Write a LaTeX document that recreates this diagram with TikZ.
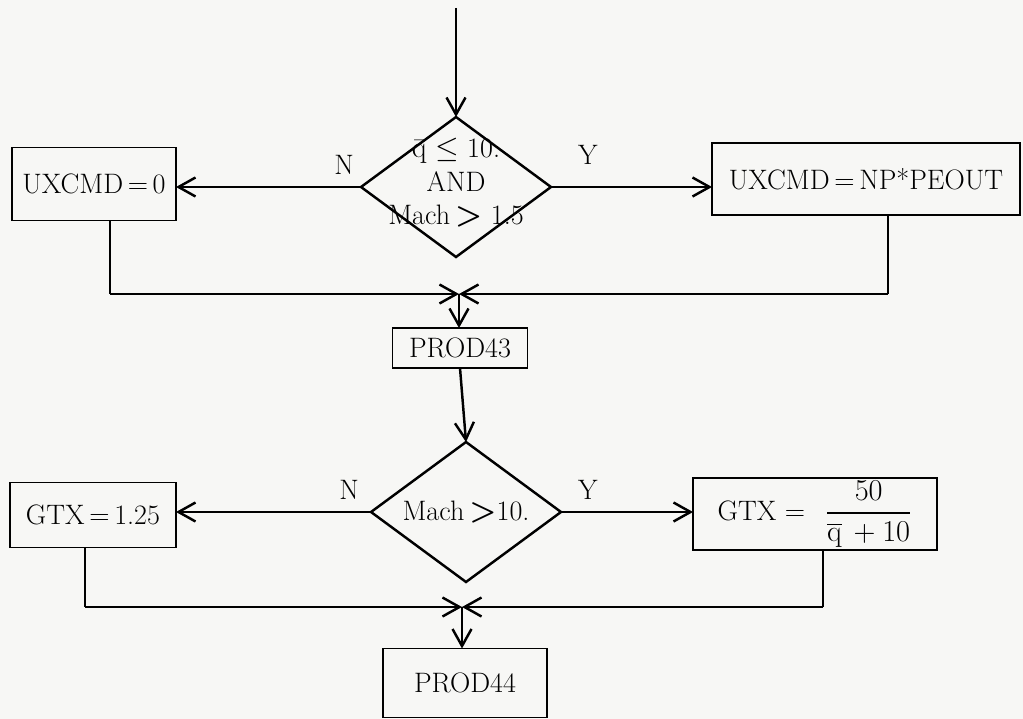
\documentclass[tikz,border=0pt]{standalone}
\usepackage{amsmath,amssymb}
\usepackage{xcolor}
\usepackage{tikz}
\usetikzlibrary{arrows.meta,positioning,shapes.geometric,calc}
\definecolor{Paper}{HTML}{F7F7F5}

\begin{document}
\begin{tikzpicture}[font=\fontsize{16}{19}\selectfont,x=0.02cm,y=-0.02cm,
  >={Straight Barb[length=3.4mm,width=3.8mm]},line width=1.4pt,
  box/.style={draw,line width=1pt,rectangle,inner sep=0pt,outer sep=0pt},
  dec/.style={draw,diamond,inner sep=0pt,outer sep=0pt,minimum width=3.8cm,minimum height=2.8cm}]
  \fill[Paper] (0,0) rectangle (1023,719);
  \useasboundingbox (0,0) rectangle (1023,719);
  % first test
  \coordinate (in) at (456,8);
  \node[dec] (d1) at (456,187) {};
  \node[align=center] (t1) at (456,183) {$\bar{\mathrm{q}}\leq$ 10.\\AND\\Mach$\,\boldsymbol{>}$ 1.5};
  \node[box,minimum width=3.28cm,minimum height=1.46cm] (u0) at (94,184) {UXCMD\,=\,0};
  \node[box,minimum width=6.16cm,minimum height=1.44cm] (u1) at (866,179) {UXCMD\,=\,NP*PEOUT};
  \draw[->](in)--(d1.north);
  \draw[->](d1.west) node[above left=1mm and 0mm]{N} -- (d1.west -| u0.east);
  \draw[->](d1.east) node[above right=3mm and 4mm]{Y} -- (d1.east -| u1.west);
  \coordinate (j1) at (459,294);
  \coordinate (c1) at (110,294);
  \coordinate (c2) at (888,294);
  \draw (u0.south -| c1)--(c1);\draw (u1.south -| c2)--(c2);
  \draw[->](c1)--(j1);\draw[->](c2)--(j1);
  \node[box,minimum width=2.7cm,minimum height=0.8cm] (p43) at (460,348) {PROD43};
  \draw[->](j1)--(j1 |- p43.north);
  % second test
  \node[dec] (d2) at (466,512) {};
  \node (t2) at (d2.center) {Mach$\,\boldsymbol{>}$10.};
  \node[box,minimum width=3.32cm,minimum height=1.3cm] (g0) at (93,515) {GTX\,=\,1.25};
  \node[box,minimum width=4.88cm,minimum height=1.44cm] (g1) at (815,514)
    {GTX =\hspace{4mm}$\genfrac{}{}{1.1pt}{0}{\;\;\mathrm{50}\;\;}{\overline{\mathrm{q}}\,+\mathrm{10}}$};
  \draw[->](p43.south)--(d2.north);
  \draw[->](d2.west) node[above left=1mm and 1mm]{N} -- (d2.west -| g0.east);
  \draw[->](d2.east) node[above right=1mm and 2mm]{Y} -- (d2.east -| g1.west);
  \coordinate (j2) at (462,607);
  \coordinate (c3) at (85,607);
  \coordinate (c4) at (823,607);
  \draw (g0.south -| c3)--(c3);\draw (g1.south -| c4)--(c4);
  \draw[->](c3)--(j2);\draw[->](c4)--(j2);
  \node[box,minimum width=3.28cm,minimum height=1.38cm] (p44) at (465,683) {PROD44};
  \draw[->](j2)--(j2 |- p44.north);
\end{tikzpicture}
\end{document}
